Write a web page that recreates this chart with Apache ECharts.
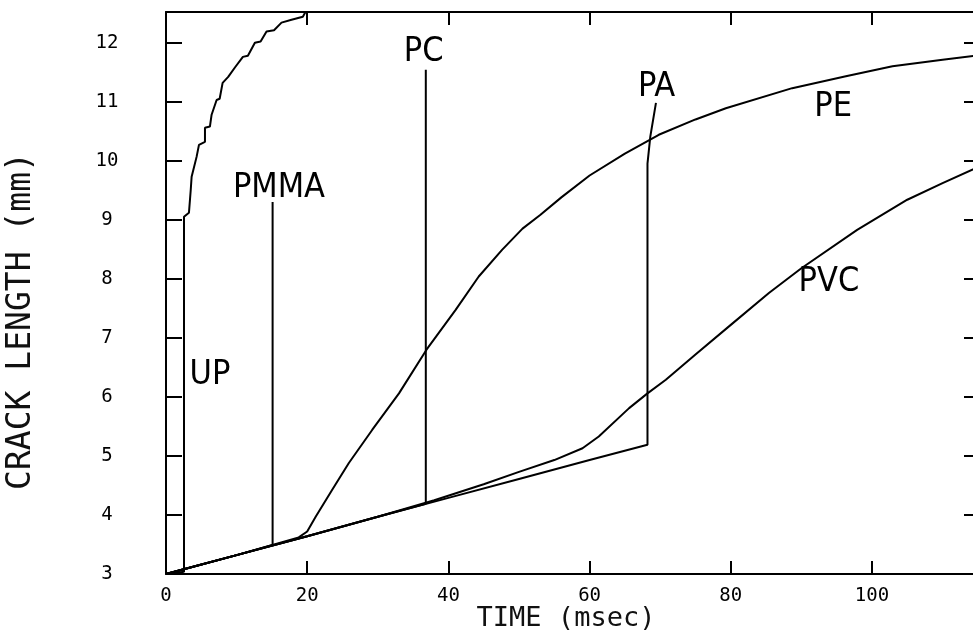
<!DOCTYPE html>
<html><head><meta charset="utf-8">
<script src="https://cdn.jsdelivr.net/npm/echarts@6/dist/echarts.min.js"></script>
<style>html,body{margin:0;padding:0;background:#fff}#c{width:973px;height:634px}</style>
</head><body><div id="c"></div>
<script>
// ---- data (time in msec, crack length in mm) ----
const xTickValues = [0, 20, 40, 60, 80, 100];
const yTickValues = [3, 4, 5, 6, 7, 8, 9, 10, 11, 12];

const dataUP = [[0,3.0],[1.5,3.02],[2.55,3.04],[2.55,9.05],[3.25,9.12],[3.5,9.5],[3.63,9.73],[4.34,10.07],[4.67,10.27],
  [5.52,10.32],[5.52,10.56],[6.22,10.58],[6.46,10.78],[7.17,11.03],[7.6,11.05],[8.02,11.32],[8.81,11.42],[9.76,11.58],
  [10.89,11.76],[11.6,11.78],[12.59,12.0],[13.4,12.02],[14.24,12.19],[15.3,12.21],[16.36,12.34],[17.78,12.39],[19.38,12.44],[19.76,12.52]];
const dataPMMA = [[0,3.0],[5,3.16],[10,3.32],[15.1,3.49],[15.1,9.3]];
const dataPC = [[0,3.0],[10,3.32],[20,3.64],[30,3.97],[36.8,4.19],[36.8,11.54]];
const dataPA = [[0,3.0],[10,3.32],[20,3.64],[30,3.97],[40,4.29],[50,4.61],[60,4.93],[68.2,5.19],[68.2,9.95],[68.6,10.41],[69.4,10.98]];
const dataPE = [[0,3.0],[10,3.32],[18.8,3.62],[20,3.72],[21.2,3.97],[23.5,4.42],[25.9,4.88],[29.2,5.44],[33,6.06],[36.9,6.8],
  [41,7.47],[44.3,8.04],[47.6,8.49],[50.5,8.85],[53,9.08],[56,9.38],[60,9.75],[65,10.12],[69.8,10.44],[75,10.7],[79.3,10.89],
  [88.7,11.23],[96.3,11.43],[102.9,11.6],[110,11.71],[115.3,11.79]];
const dataPVC = [[0,3.0],[10,3.32],[20,3.64],[30,3.97],[38,4.25],[45,4.52],[50,4.73],[55,4.93],[59,5.13],[61.3,5.33],[65.6,5.81],
  [68.2,6.06],[70.8,6.29],[75,6.72],[80,7.22],[85.4,7.76],[90,8.18],[97.9,8.83],[105,9.34],[110,9.62],[115.3,9.91]];

const labelNames = ['UP', 'PMMA', 'PC', 'PA', 'PE', 'PVC'];
const labelX = [6.23, 16.0, 36.5, 69.5, 94.5, 93.9];
const labelY = [6.36, 9.54, 11.84, 11.25, 10.91, 7.94];

const xName = 'TIME (msec)';
const yName = 'CRACK LENGTH (mm)';

// ---- chart ----
const chart = echarts.init(document.getElementById('c'), null, {renderer: 'canvas'});
const X_MIN = 0, X_MAX = 115.3, Y_MIN = 3, Y_MAX = 12.52;
const axisLine = {show: true, onZero: false, lineStyle: {color: '#000', width: 2}};
const monoFont = "'DejaVu Sans Mono', 'Liberation Mono', monospace";

function curve(name, data) {
  return {name, type: 'line', data, showSymbol: false, symbol: 'none', smooth: false,
    lineStyle: {color: '#000', width: 2}, z: 3, silent: true, animation: false};
}

chart.setOption({
  animation: false,
  backgroundColor: '#fff',
  grid: {left: 166, top: 12, width: 814, height: 562, show: false, containLabel: false, outerBoundsMode: 'none'},
  xAxis: [
    {type: 'value', position: 'bottom', min: X_MIN, max: X_MAX, interval: 20,
      axisLine, splitLine: {show: false},
      axisTick: {show: true, inside: true, length: 13, lineStyle: {color: '#000', width: 2}},
      axisLabel: {show: true, margin: 13, color: '#000', fontFamily: monoFont, fontSize: 19, showMaxLabel: false,
        formatter: v => xTickValues.includes(v) ? String(v) : ''}},
    {type: 'value', position: 'top', min: X_MIN, max: X_MAX, interval: 20,
      axisLine, splitLine: {show: false},
      axisTick: {show: true, inside: true, length: 13, lineStyle: {color: '#000', width: 2}},
      axisLabel: {show: false}}
  ],
  yAxis: [
    {type: 'value', position: 'left', min: Y_MIN, max: Y_MAX, interval: 1,
      axisLine, splitLine: {show: false},
      axisTick: {show: true, inside: true, length: 16, lineStyle: {color: '#000', width: 2}},
      axisLabel: {show: true, margin: 59, align: 'center', color: '#000', fontFamily: monoFont, fontSize: 19, showMaxLabel: false,
        formatter: v => yTickValues.includes(v) ? String(v) : ''}},
    {type: 'value', position: 'right', min: Y_MIN, max: Y_MAX, interval: 1,
      axisLine, splitLine: {show: false},
      axisTick: {show: true, inside: true, length: 16, lineStyle: {color: '#000', width: 2}},
      axisLabel: {show: false}}
  ],
  series: [
    curve('UP', dataUP), curve('PMMA', dataPMMA), curve('PC', dataPC),
    curve('PA', dataPA), curve('PE', dataPE), curve('PVC', dataPVC),
    {type: 'scatter', silent: true, symbolSize: 1, itemStyle: {color: 'rgba(0,0,0,0)'}, z: 5,
      data: labelNames.map((n, i) => ({name: n, value: [labelX[i], labelY[i]]})),
      label: {show: true, position: 'inside', formatter: p => p.name, color: '#000', opacity: 1,
        fontFamily: "'Liberation Sans Narrow', 'DejaVu Sans Condensed', 'Liberation Sans', sans-serif", fontSize: 34}}
  ],
  graphic: [
    {type: 'text', x: 566, y: 619, silent: true,
      style: {text: xName, fill: '#111', font: "27px " + monoFont, textAlign: 'center', textVerticalAlign: 'middle'}},
    {type: 'text', x: 21, y: 321, rotation: Math.PI / 2, silent: true,
      style: {text: yName, fill: '#111', font: "33px " + monoFont, textAlign: 'center', textVerticalAlign: 'middle'}}
  ]
});
</script></body></html>
